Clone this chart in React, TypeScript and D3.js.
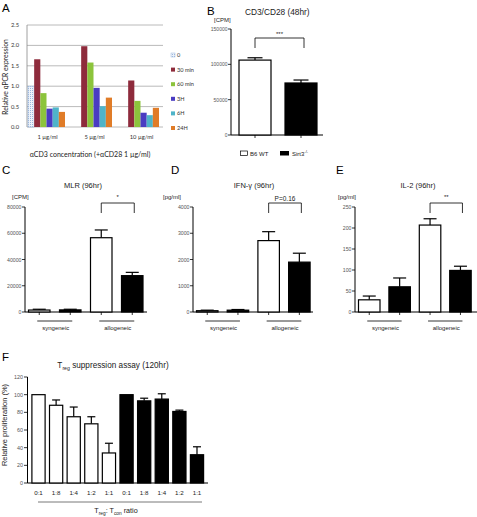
import React from "react";
import * as d3 from "d3";

// ---------- Panel A data ----------
const aGroups = ["1 µg/ml", "5 µg/ml", "10 µg/ml"];
const aSeries = ["0", "30 min", "60 min", "3H", "6H", "24H"];
const aColors = ["#dbe6f4", "#8e2b3c", "#8cc43c", "#4a3cc2", "#4fb4c9", "#e07c28"];
const aVals1 = [1.0, 1.66, 0.83, 0.45, 0.48, 0.37];
const aVals5 = [null, 1.98, 1.58, 0.96, 0.51, 0.72];
const aVals10 = [null, 1.14, 0.64, 0.35, 0.29, 0.47];
const aTicks = [0, 0.5, 1.0, 1.5, 2.0, 2.5];

// ---------- Panel B data ----------
const bCats = ["B6 WT", "Sirt3"];
const bMeans = [106000, 73600];
const bSem = [3300, 4200];
const bTicks = [0, 50000, 100000, 150000];

// ---------- Panels C, D, E data ----------
const cdeCats = ["syn WT", "syn KO", "allo WT", "allo KO"];
const cMeans = [1500, 1600, 56600, 27700];
const cSem = [600, 500, 5900, 2500];
const cTicks = [0, 20000, 40000, 60000, 80000];
const dMeans = [50, 70, 2720, 1900];
const dSem = [20, 25, 340, 340];
const dTicks = [0, 1000, 2000, 3000, 4000];
const eMeans = [29, 60, 207, 99];
const eSem = [9, 21, 15, 10];
const eTicks = [0, 50, 100, 150, 200, 250];

// ---------- Panel F data ----------
const fRatios = ["0:1", "1:8", "1:4", "1:2", "1:1"];
const fWT = [100, 88, 75, 67, 34];
const fWTSem = [0, 6, 11, 8, 11];
const fKO = [100, 93, 95, 81, 32];
const fKOSem = [0, 3, 6, 1.5, 9];
const fTicks = [0, 20, 40, 60, 80, 100, 120];

const SANS = "Liberation Sans, Arial, Helvetica, sans-serif";
const LATO = "Lato, Open Sans, sans-serif";

function PanelA() {
  const y = d3.scaleLinear().domain([0, 2.5]).range([127, 25]);
  const xg = d3.scaleBand().domain(aGroups).range([28, 159]).paddingInner(10 / 47).paddingOuter(0);
  const xs = d3.scaleBand().domain(aSeries).range([0, xg.bandwidth()]);
  const groups = [aVals1, aVals5, aVals10];
  return (
    <g>
      <defs>
        <pattern id="dots" width="2" height="2" patternUnits="userSpaceOnUse">
          <rect width="2" height="2" fill="#eef3fa" />
          <rect width="1" height="1" fill="#9db8de" />
        </pattern>
      </defs>
      <text x={2} y={12} fontFamily={SANS} fontSize={11.5}>A</text>
      {aTicks.map((t) => (
        <g key={t}>
          <line x1={27} x2={163} y1={y(t)} y2={y(t)} stroke="#a8a8a8" strokeWidth={0.8} />
          <text x={19} y={y(t) + 2} textAnchor="end" fontFamily={LATO} fontSize={5.8} fill="#333">{t.toFixed(1)}</text>
        </g>
      ))}
      <line x1={27} x2={27} y1={25} y2={127} stroke="#888" strokeWidth={0.8} />
      {groups.map((vals, gi) =>
        vals.map((v, si) =>
          v == null ? null : (
            <rect
              key={gi + "-" + si}
              x={(xg(aGroups[gi]) as number) + (xs(aSeries[si]) as number)}
              y={y(v)}
              width={xs.bandwidth()}
              height={y(0) - y(v)}
              fill={si === 0 ? "url(#dots)" : aColors[si]}
              stroke={si === 0 ? "#9db8de" : "none"}
              strokeWidth={0.6}
            />
          )
        )
      )}
      {aGroups.map((g) => (
        <text key={g} x={(xg(g) as number) + xg.bandwidth() / 2 + 1} y={139} textAnchor="middle" fontFamily={LATO} fontSize={5.8} fill="#333">{g}</text>
      ))}
      <text x={90} y={157} textAnchor="middle" fontFamily={LATO} fontSize={7} fill="#222">αCD3 concentration (+αCD28 1 µg/ml)</text>
      <text transform="translate(8,77) rotate(-90)" textAnchor="middle" fontFamily={LATO} fontSize={6.8} fill="#222">Relative qPCR expression</text>
      {aSeries.map((s, i) => {
        const cy = 55 + i * 14.6;
        return (
          <g key={s}>
            <rect x={171} y={cy - 2} width={4} height={4} fill={i === 0 ? "url(#dots)" : aColors[i]} stroke={i === 0 ? "#9db8de" : "none"} strokeWidth={0.5} />
            <text x={177} y={cy + 2} fontFamily={LATO} fontSize={5.6} fill="#333">{s}</text>
          </g>
        );
      })}
    </g>
  );
}

function ErrBar({ cx, yTop, yErr, cap }: { cx: number; yTop: number; yErr: number; cap: number }) {
  return (
    <g stroke="#000" strokeWidth={1.2}>
      <line x1={cx} x2={cx} y1={yTop} y2={yErr} />
      <line x1={cx - cap / 2} x2={cx + cap / 2} y1={yErr} y2={yErr} />
    </g>
  );
}

function PanelB() {
  const y = d3.scaleLinear().domain([0, 150000]).range([135, 29]);
  const x = d3.scaleBand().domain(bCats).range([239, 317]).paddingInner(14 / 46).paddingOuter(0);
  return (
    <g fontFamily={SANS}>
      <text x={207} y={15} fontSize={11.5}>B</text>
      <text x={245} y={15} fontSize={8.3} fill="#222">CD3/CD28 (48hr)</text>
      <text x={214} y={22} fontSize={6} fill="#222">[CPM]</text>
      {bTicks.map((t) => (
        <g key={t}>
          <line x1={228} x2={231} y1={y(t)} y2={y(t)} stroke="#000" strokeWidth={0.8} />
          <text x={227.5} y={y(t) + 2} textAnchor="end" fontSize={5} fill="#555">{t}</text>
        </g>
      ))}
      <line x1={231} x2={231} y1={29} y2={135} stroke="#000" strokeWidth={1} />
      <line x1={231} x2={323} y1={135} y2={135} stroke="#000" strokeWidth={1} />
      {bCats.map((c, i) => {
        const x0 = x(c) as number;
        const cx = x0 + x.bandwidth() / 2;
        return (
          <g key={c}>
            <ErrBar cx={cx} yTop={y(bMeans[i])} yErr={y(bMeans[i] + bSem[i])} cap={15} />
            <rect x={x0} y={y(bMeans[i])} width={x.bandwidth()} height={135 - y(bMeans[i])} fill={i === 0 ? "#fff" : "#000"} stroke="#000" strokeWidth={1.2} />
            <line x1={cx} x2={cx} y1={135} y2={138} stroke="#000" strokeWidth={0.8} />
          </g>
        );
      })}
      <path d={`M255,48 V38 H304 V48`} fill="none" stroke="#000" strokeWidth={0.8} />
      <text x={279.5} y={36} textAnchor="middle" fontSize={6} fill="#222">***</text>
      <rect x={240.5} y={151} width={7} height={4.5} fill="#fff" stroke="#000" strokeWidth={0.7} />
      <text x={250} y={155.5} fontSize={6} fill="#222">B6 WT</text>
      <rect x={280} y={151} width={9} height={4.5} fill="#000" />
      <text x={292} y={155.5} fontSize={6} fill="#222">Sirt3<tspan dy={-2.5} fontSize={4}>-/-</tspan></text>
    </g>
  );
}

type SmallProps = {
  letter: string;
  letterX: number;
  title: string;
  titleX: number;
  unit: string;
  unitX: number;
  axisX: number;
  axisEnd: number;
  ticks: number[];
  means: number[];
  sem: number[];
  sig: string;
  step: number;
};

function SmallPanel(p: SmallProps) {
  const base = 312;
  const y = d3.scaleLinear().domain([0, p.ticks[p.ticks.length - 1]]).range([base, 207]);
  const bw = 21.5;
  const x0 = p.axisX + 3.5;
  const x = d3.scaleBand().domain(cdeCats).range([x0, x0 + 3 * p.step + bw]).paddingInner((p.step - bw) / p.step).paddingOuter(0);
  const centers = cdeCats.map((c) => (x(c) as number) + x.bandwidth() / 2);
  const bx1 = centers[2];
  const bx2 = centers[3] + 2;
  return (
    <g fontFamily={SANS}>
      <text x={p.letterX} y={174} fontSize={11.5}>{p.letter}</text>
      <text x={p.titleX} y={188} textAnchor="middle" fontSize={7.5} fill="#222">{p.title}</text>
      <text x={p.unitX} y={199} fontSize={6} fill="#222">{p.unit}</text>
      {p.ticks.map((t) => (
        <g key={t}>
          <line x1={p.axisX - 3} x2={p.axisX} y1={y(t)} y2={y(t)} stroke="#000" strokeWidth={0.8} />
          <text x={p.axisX - 3.5} y={y(t) + 2} textAnchor="end" fontSize={5.2} fill="#555">{t}</text>
        </g>
      ))}
      <line x1={p.axisX} x2={p.axisX} y1={207} y2={base} stroke="#000" strokeWidth={1} />
      <line x1={p.axisX} x2={p.axisEnd} y1={base} y2={base} stroke="#000" strokeWidth={1} />
      {cdeCats.map((c, i) => (
        <g key={c}>
          <ErrBar cx={centers[i]} yTop={y(p.means[i])} yErr={y(p.means[i] + p.sem[i])} cap={13} />
          <rect x={x(c) as number} y={y(p.means[i])} width={x.bandwidth()} height={base - y(p.means[i])} fill={i % 2 === 0 ? "#fff" : "#000"} stroke="#000" strokeWidth={1.2} />
          <line x1={centers[i]} x2={centers[i]} y1={base} y2={base + 3} stroke="#000" strokeWidth={0.8} />
        </g>
      ))}
      <path d={`M${bx1},213 V203 H${bx2} V213`} fill="none" stroke="#000" strokeWidth={0.8} />
      <text x={(bx1 + bx2) / 2} y={p.sig.startsWith("P") ? 201 : 199} textAnchor="middle" fontSize={p.sig.startsWith("P") ? 6.5 : 6} fill="#222">{p.sig}</text>
      <line x1={centers[0] - 2} x2={centers[1] + 2} y1={321} y2={321} stroke="#000" strokeWidth={0.8} />
      <line x1={centers[2] - 2} x2={centers[3] + 2} y1={321} y2={321} stroke="#000" strokeWidth={0.8} />
      <text x={(centers[0] + centers[1]) / 2 + 1} y={330} textAnchor="middle" fontSize={6} fill="#222">syngeneic</text>
      <text x={(centers[2] + centers[3]) / 2 + 1} y={330} textAnchor="middle" fontSize={6} fill="#222">allogeneic</text>
    </g>
  );
}

function PanelF() {
  const base = 483;
  const y = d3.scaleLinear().domain([0, 120]).range([base, 377]);
  const keys = [...fRatios.map((r) => "wt" + r), ...fRatios.map((r) => "ko" + r)];
  const x = d3.scaleBand().domain(keys).range([27.5, 208]).padding(0.25);
  const vals = [...fWT, ...fKO];
  const sems = [...fWTSem, ...fKOSem];
  const labels = [...fRatios, ...fRatios];
  return (
    <g fontFamily={SANS}>
      <text x={2} y={361} fontSize={11.5}>F</text>
      <text x={113} y={368} textAnchor="middle" fontSize={8.2} fill="#222">T<tspan dy={2} fontSize={5.2}>reg</tspan><tspan dy={-2}> suppression assay (120hr)</tspan></text>
      <text transform="translate(7,425) rotate(-90)" textAnchor="middle" fontSize={7.5} fill="#222">Relative proliferation (%)</text>
      {fTicks.map((t) => (
        <g key={t}>
          <line x1={24} x2={27.5} y1={y(t)} y2={y(t)} stroke="#000" strokeWidth={0.8} />
          <text x={23} y={y(t) + 2} textAnchor="end" fontSize={5.4} fill="#555">{t}</text>
        </g>
      ))}
      <line x1={27.5} x2={27.5} y1={377} y2={base} stroke="#000" strokeWidth={1} />
      <line x1={27.5} x2={208} y1={base} y2={base} stroke="#000" strokeWidth={1} />
      {keys.map((k, i) => {
        const cx = (x(k) as number) + x.bandwidth() / 2;
        return (
          <g key={k}>
            {sems[i] > 0 && <ErrBar cx={cx} yTop={y(vals[i])} yErr={y(vals[i] + sems[i])} cap={8} />}
            <rect x={x(k) as number} y={y(vals[i])} width={x.bandwidth()} height={base - y(vals[i])} fill={i < 5 ? "#fff" : "#000"} stroke="#000" strokeWidth={1.2} />
            <text x={cx} y={495} textAnchor="middle" fontSize={6.2} fill="#222">{labels[i]}</text>
          </g>
        );
      })}
      <line x1={38} x2={202} y1={502} y2={502} stroke="#555" strokeWidth={0.8} />
      <text x={116} y={513} textAnchor="middle" fontSize={7.2} fill="#222">T<tspan dy={2} fontSize={4.8}>reg</tspan><tspan dy={-2}>: T</tspan><tspan dy={2} fontSize={4.8}>con</tspan><tspan dy={-2}> ratio</tspan></text>
    </g>
  );
}

export default function App() {
  return (
    <svg width={477} height={517} style={{ position: "absolute", left: 0, top: 0, background: "#fff" }}>
      <rect width={477} height={517} fill="#fff" />
      <PanelA />
      <PanelB />
      <SmallPanel letter="C" letterX={2} title="MLR (96hr)" titleX={83} unit="[CPM]" unitX={12} axisX={25} axisEnd={147} ticks={cTicks} means={cMeans} sem={cSem} sig="*" step={31} />
      <SmallPanel letter="D" letterX={171} title="IFN-γ (96hr)" titleX={254} unit="[pg/ml]" unitX={163} axisX={193} axisEnd={313} ticks={dTicks} means={dMeans} sem={dSem} sig="P=0.16" step={30.7} />
      <SmallPanel letter="E" letterX={336} title="IL-2 (96hr)" titleX={418} unit="[pg/ml]" unitX={338} axisX={355} axisEnd={477} ticks={eTicks} means={eMeans} sem={eSem} sig="**" step={30.4} />
      <PanelF />
    </svg>
  );
}
